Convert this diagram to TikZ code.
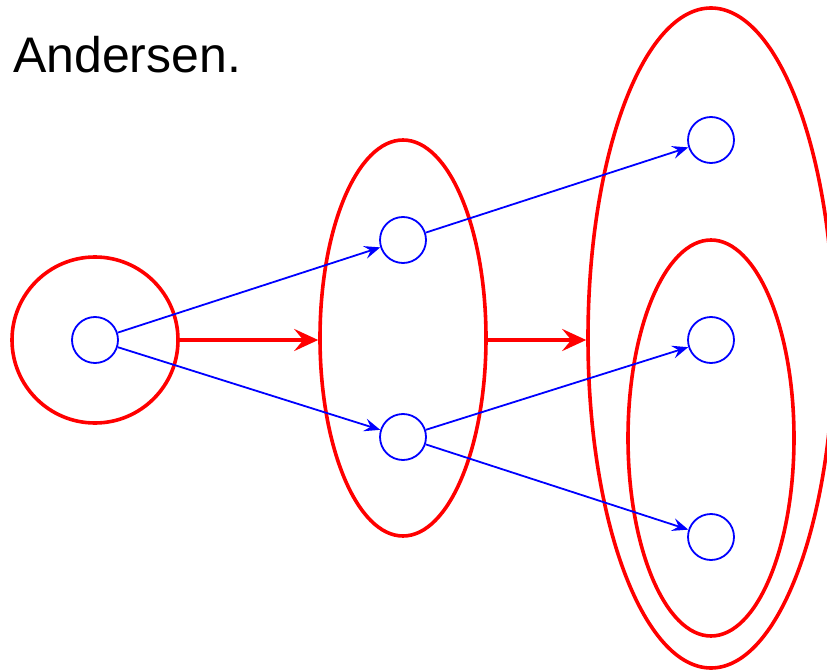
\documentclass[tikz,border=0pt]{standalone}
\usepackage{fontspec}
\setmainfont{Liberation Sans}
\usetikzlibrary{arrows.meta,shapes.geometric}
\begin{document}
\begin{tikzpicture}[x=1pt,y=-1pt,
  vert/.style={draw=blue,line width=1.8pt,circle,minimum size=46pt,inner sep=0pt},
  grp/.style={draw=red,line width=3.6pt},
  bluearr/.style={blue,line width=1.8pt,-{Stealth[length=16pt,width=13pt,inset=6pt]}},
  redarr/.style={red,line width=4pt,-{Stealth[length=24pt,width=22pt,inset=9pt]}}]
\useasboundingbox (0,0) rectangle (827,671);
\node[anchor=base west,font=\fontsize{50}{56}\selectfont,inner sep=0pt] (t) at (13,73) {Andersen.};
\node[vert] (a) at (95,340) {};
\node[vert] (b1) at (403,240) {};
\node[vert] (b2) at (403,437) {};
\node[vert] (c1) at (711,140) {};
\node[vert] (c2) at (711,340) {};
\node[vert] (c3) at (711,537) {};
\node[grp,circle,minimum size=166pt,inner sep=0pt] (ga) at (95,340) {};
\node[grp,ellipse,minimum width=166pt,minimum height=396pt,inner sep=0pt] (gb) at (403,338) {};
\node[grp,ellipse,minimum width=246pt,minimum height=660pt,inner sep=0pt] (gc) at (711,338) {};
\node[grp,ellipse,minimum width=166pt,minimum height=396pt,inner sep=0pt] (gd) at (711,438) {};
\draw[bluearr] (a) -- (b1);
\draw[bluearr] (a) -- (b2);
\draw[bluearr] (b1) -- (c1);
\draw[bluearr] (b2) -- (c2);
\draw[bluearr] (b2) -- (c3);
\draw[redarr] (ga.east) -- (ga.east -| gb.west);
\draw[redarr] (ga.east -| gb.east) -- (ga.east -| gc.west);
\end{tikzpicture}
\end{document}
